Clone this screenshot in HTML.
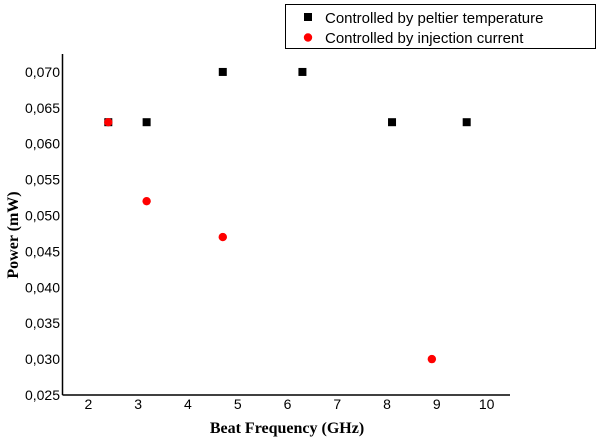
<!DOCTYPE html>
<html><head><meta charset="utf-8"><style>
body{margin:0;background:#fff;}
svg{display:block;font-family:"Liberation Sans",sans-serif;}
</style></head><body>
<svg id="chart" width="600" height="440">
<g>
<rect x="285.5" y="4.5" width="310" height="44" fill="#fff" stroke="#000"/>
<rect x="304" y="13" width="8" height="8" fill="#000"/>
<text x="325" y="23" font-size="15">Controlled by peltier temperature</text>
<circle cx="308" cy="37.5" r="4.2" fill="#f00"/>
<text x="325" y="43" font-size="15">Controlled by injection current</text>
</g>
<text x="287" y="433" font-family="Liberation Serif,serif" font-weight="bold" font-size="16" text-anchor="middle">Beat Frequency (GHz)</text>
<text transform="translate(18,235) rotate(-90)" font-family="Liberation Serif,serif" font-weight="bold" font-size="16" text-anchor="middle">Power (mW)</text>
</svg>
<script>
const xTicks=[2,3,4,5,6,7,8,9,10];
const yTicks=[0.025,0.030,0.035,0.040,0.045,0.050,0.055,0.060,0.065,0.070];
const peltierX=[2.4,3.17,4.7,6.3,8.1,9.6];
const peltierY=[0.063,0.063,0.070,0.070,0.063,0.063];
const injectionX=[2.4,3.17,4.7,8.9];
const injectionY=[0.063,0.052,0.047,0.030];
const NS="http://www.w3.org/2000/svg";
const svg=document.getElementById('chart');
const L=62.5,R=510,T=54,B=395;
const xMin=1.48,xMax=10.47,yMin=0.025,yMax=0.0725;
const xs=v=>L+(v-xMin)/(xMax-xMin)*(R-L);
const ys=v=>B-(v-yMin)/(yMax-yMin)*(B-T);
function mk(tag,attrs){const e=document.createElementNS(NS,tag);for(const k in attrs)e.setAttribute(k,attrs[k]);svg.appendChild(e);return e;}
let a=mk('line',{x1:L,y1:T,x2:L,y2:B,stroke:'#000','stroke-width':1.5});


a=mk('line',{x1:L,y1:B,x2:R,y2:B,stroke:'#000','stroke-width':1.5});


xTicks.forEach(v=>{const t=mk('text',{x:xs(v),y:409,'font-size':14,'text-anchor':'middle',fill:'#000'});t.textContent=v;

});
yTicks.forEach(v=>{const t=mk('text',{x:60,y:ys(v)+5,'font-size':14,'text-anchor':'end',fill:'#000'});t.textContent=v.toFixed(3).replace('.',',');

});
peltierX.forEach((v,i)=>{const r=mk('rect',{x:xs(v)-4,y:ys(peltierY[i])-4,width:8,height:8,fill:'#000'});

});
injectionX.forEach((v,i)=>{const c=mk('circle',{cx:xs(v),cy:ys(injectionY[i]),r:4.2,fill:'#f00'});

});
</script>
</body></html>
